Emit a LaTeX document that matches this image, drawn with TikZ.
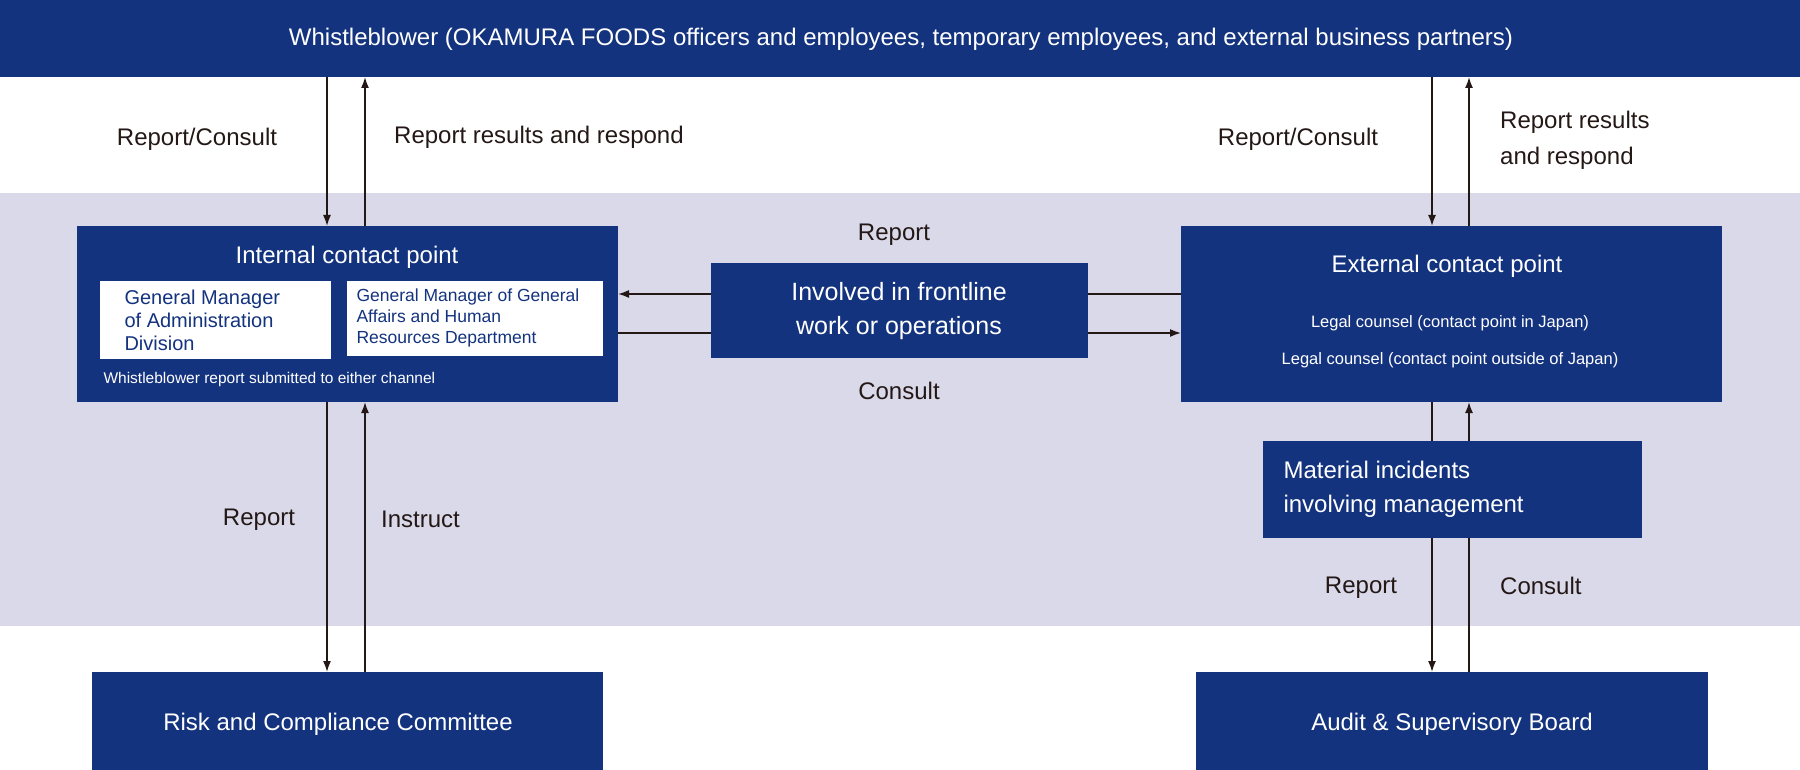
\documentclass[tikz,border=0pt]{standalone}
\usepackage{fontspec}
\setmainfont{Liberation Sans}
\definecolor{navy}{HTML}{14337F}
\definecolor{band}{HTML}{D9D9EA}
\definecolor{arr}{HTML}{231815}
\begin{document}
\begin{tikzpicture}[x=1pt,y=-1pt,
  box/.style={fill=navy,draw=none,text=white,inner sep=0pt},
  wbox/.style={fill=white,draw=none,text=navy,inner sep=0pt,align=left},
  lbl/.style={font=\fontsize{24}{29}\selectfont,text=arr,inner sep=0pt},
  ar/.style={draw=arr,line width=1.6pt,-{Latex[length=11pt,width=8pt]}},
  ln/.style={draw=arr,line width=1.6pt}]
\usetikzlibrary{arrows.meta}
\useasboundingbox (0,0) rectangle (1800,770);
\fill[band] (0,193) rectangle (1800,626);
% boxes
\node[box,minimum width=1800pt,minimum height=77pt,anchor=north west] (wb) at (0,0) {};
\node[text=white,font=\fontsize{24}{29}\selectfont] at (901,39) {Whistleblower (OKAMURA FOODS officers and employees, temporary employees, and external business partners)};
\coordinate (c1) at (327,77); \coordinate (c2) at (365,77);
\coordinate (c3) at (1432,77); \coordinate (c4) at (1469,77);
% connectors behind boxes
\draw[ar] (c1) -- (327,226);
\draw[ar] (365,226) -- (c2);
\draw[ar] (c3) -- (1432,226);
\draw[ar] (1469,226) -- (c4);
\draw[ar] (327,402) -- (327,672);
\draw[ar] (365,672) -- (365,402);
\draw[ar] (1181,294) -- (618,294);
\draw[ar] (618,333) -- (1181,333);
\draw[ar] (1432,402) -- (1432,672);
\draw[ar] (1469,672) -- (1469,402);
\node[box,minimum width=541pt,minimum height=176pt,anchor=north west] (int) at (77,226) {};
\node[text=white,font=\fontsize{24}{29}\selectfont] at (347,257) {Internal contact point};
\node[wbox,minimum width=231pt,minimum height=78pt,anchor=north west] (g1) at (100,281) {};
\node[text=navy,align=left,anchor=west,font=\fontsize{20}{23}\selectfont] at (121,320) {General Manager\\of Administration\\Division};
\node[wbox,minimum width=256pt,minimum height=75pt,anchor=north west] (g2) at (347,281) {};
\node[text=navy,align=left,anchor=west,font=\fontsize{17.5}{21}\selectfont] at (353,318) {General Manager of General\\Affairs and Human\\Resources Department};
\node[text=white,anchor=west,font=\fontsize{15.5}{18}\selectfont] at (100,379) {Whistleblower report submitted to either channel};
\node[box,minimum width=377pt,minimum height=95pt,anchor=north west,align=center,font=\fontsize{25}{34}\selectfont] (fl) at (711,263) {};
\node[text=white,align=center,font=\fontsize{25}{34}\selectfont] at (899,311) {Involved in frontline\\work or operations};
\node[box,minimum width=541pt,minimum height=176pt,anchor=north west] (ext) at (1181,226) {};
\node[text=white,font=\fontsize{24}{29}\selectfont] at (1447,266) {External contact point};
\node[text=white,font=\fontsize{16.5}{20}\selectfont] at (1450,323) {Legal counsel (contact point in Japan)};
\node[text=white,font=\fontsize{16.5}{20}\selectfont] at (1450,360) {Legal counsel (contact point outside of Japan)};
\node[box,minimum width=379pt,minimum height=97pt,anchor=north west] (mat) at (1263,441) {};
\node[text=white,align=left,anchor=west,font=\fontsize{24}{34}\selectfont] at (1280,489) {Material incidents\\involving management};
\node[box,minimum width=511pt,minimum height=98pt,anchor=north west] (risk) at (92,672) {};
\node[text=white,font=\fontsize{24}{29}\selectfont] at (338,724) {Risk and Compliance Committee};
\node[box,minimum width=512pt,minimum height=98pt,anchor=north west] (aud) at (1196,672) {};
\node[text=white,font=\fontsize{24}{29}\selectfont] at (1452,724) {Audit \& Supervisory Board};
% labels
\node[lbl] at (197,139) {Report/Consult};
\node[lbl,anchor=west] at (394,137) {Report results and respond};
\node[lbl] at (1298,139) {Report/Consult};
\node[lbl,anchor=west,align=left,font=\fontsize{24}{36}\selectfont] at (1500,140) {Report results\\and respond};
\node[lbl] at (894,235) {Report};
\node[lbl] at (899,391) {Consult};
\node[lbl] at (259,520) {Report};
\node[lbl,anchor=west] at (381,519) {Instruct};
\node[lbl] at (1361,588) {Report};
\node[lbl,anchor=west] at (1500,586) {Consult};
\end{tikzpicture}
\end{document}
